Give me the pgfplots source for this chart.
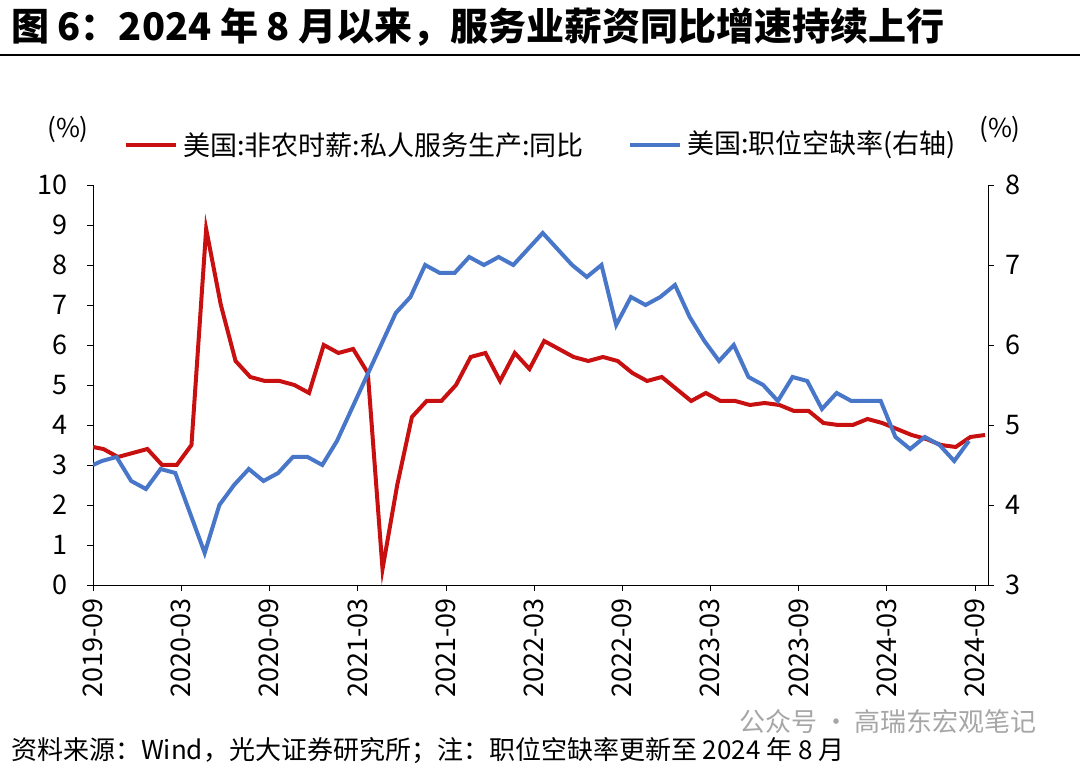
\documentclass[border=0pt]{standalone}
\usepackage{pgfplots}
\pgfplotsset{compat=1.18}
\usepackage{fontspec}
\setmainfont{Noto Sans CJK SC}
\definecolor{cred}{RGB}{200,16,16}
\definecolor{cblue}{RGB}{72,118,200}
\begin{document}
\begin{tikzpicture}[x=1pt,y=1pt]
\path[use as bounding box] (0,0) rectangle (540,384.5);
\node[anchor=west,font=\fontsize{19}{21}\selectfont\bfseries] at (2,371) {图 6：2024 年 8 月以来，服务业薪资同比增速持续上行};
\draw[line width=1pt] (0,357) -- (540,357);
\node[anchor=west,font=\fontsize{13}{15}\selectfont] at (2,9) {资料来源：Wind，光大证券研究所；注：职位空缺率更新至 2024 年 8 月};
\node[anchor=east,font=\fontsize{13}{15}\selectfont,text=black!35] at (522,23.5) {公众号 · 高瑞东宏观笔记};
\node[font=\fontsize{13}{15}\selectfont] at (34,320) {(\%)};
\node[font=\fontsize{13}{15}\selectfont] at (500,320) {(\%)};
\draw[cred,line width=2pt] (63,312) -- (88,312);
\node[anchor=west,font=\fontsize{13.5}{15}\selectfont] at (88,312) {美国:非农时薪:私人服务生产:同比};
\draw[cblue,line width=2pt] (315,312) -- (340,312);
\node[anchor=west,font=\fontsize{13.5}{15}\selectfont] at (340,312) {美国:职位空缺率(右轴)};
\begin{scope}[shift={(46.5,92)}]
\begin{axis}[scale only axis,width=447.5pt,height=200pt,at={(0,0)},
 xmin=0,xmax=60.9,ymin=0,ymax=10,axis x line*=bottom,axis y line*=left,
 xtick={0,6,...,60},xticklabels={2019-09,2020-03,2020-09,2021-03,2021-09,2022-03,2022-09,2023-03,2023-09,2024-03,2024-09},
 xticklabel style={rotate=90,anchor=east},
 ytick={0,1,...,10},tick style={black},
 yticklabel style={xshift=-6pt},
 ticklabel style={font=\fontsize{13.5}{15}\selectfont},
 /pgf/number format/assume math mode=true,
 tick align=outside,major tick length=3pt]
\addplot[cred,line width=2pt,no marks] table {
0 3.45
0.7 3.4
1.7 3.2
2.7 3.3
3.7 3.4
4.7 3.0
5.7 3.0
6.7 3.5
7.7 8.9
8.7 7.0
9.7 5.6
10.7 5.2
11.7 5.1
12.7 5.1
13.7 5.0
14.7 4.8
15.7 6.0
16.7 5.8
17.7 5.9
18.7 5.3
19.7 0.4
20.7 2.5
21.7 4.2
22.7 4.6
23.7 4.6
24.7 5.0
25.7 5.7
26.7 5.8
27.7 5.1
28.7 5.8
29.7 5.4
30.7 6.1
31.7 5.9
32.7 5.7
33.7 5.6
34.7 5.7
35.7 5.6
36.7 5.3
37.7 5.1
38.7 5.2
39.7 4.9
40.7 4.6
41.7 4.8
42.7 4.6
43.7 4.6
44.7 4.5
45.7 4.55
46.7 4.5
47.7 4.35
48.7 4.35
49.7 4.05
50.7 4.0
51.7 4.0
52.7 4.15
53.7 4.05
54.7 3.9
55.7 3.75
56.7 3.65
57.7 3.5
58.7 3.45
59.7 3.7
60.7 3.75
};
\end{axis}
\begin{axis}[scale only axis,width=447.5pt,height=200pt,at={(0,0)},
 xmin=0,xmax=60.9,ymin=3,ymax=8,axis x line=none,axis y line*=right,
 ytick={3,4,...,8},tick style={black},
 yticklabel style={xshift=2pt},
 ticklabel style={font=\fontsize{13.5}{15}\selectfont},
 /pgf/number format/assume math mode=true,
 tick align=outside,major tick length=3pt]
\addplot[cblue,line width=2pt,no marks] table {
0 4.5
0.6 4.55
1.6 4.6
2.6 4.3
3.6 4.2
4.6 4.45
5.6 4.4
6.6 3.9
7.6 3.4
8.6 4.0
9.6 4.25
10.6 4.45
11.6 4.3
12.6 4.4
13.6 4.6
14.6 4.6
15.6 4.5
16.6 4.8
17.6 5.2
18.6 5.6
19.6 6.0
20.6 6.4
21.6 6.6
22.6 7.0
23.6 6.9
24.6 6.9
25.6 7.1
26.6 7.0
27.6 7.1
28.6 7.0
29.6 7.2
30.6 7.4
31.6 7.2
32.6 7.0
33.6 6.85
34.6 7.0
35.6 6.25
36.6 6.6
37.6 6.5
38.6 6.6
39.6 6.75
40.6 6.35
41.6 6.05
42.6 5.8
43.6 6.0
44.6 5.6
45.6 5.5
46.6 5.3
47.6 5.6
48.6 5.55
49.6 5.2
50.6 5.4
51.6 5.3
52.6 5.3
53.6 5.3
54.6 4.85
55.6 4.7
56.6 4.85
57.6 4.75
58.6 4.55
59.6 4.8
};
\end{axis}
\end{scope}
\end{tikzpicture}
\end{document}
